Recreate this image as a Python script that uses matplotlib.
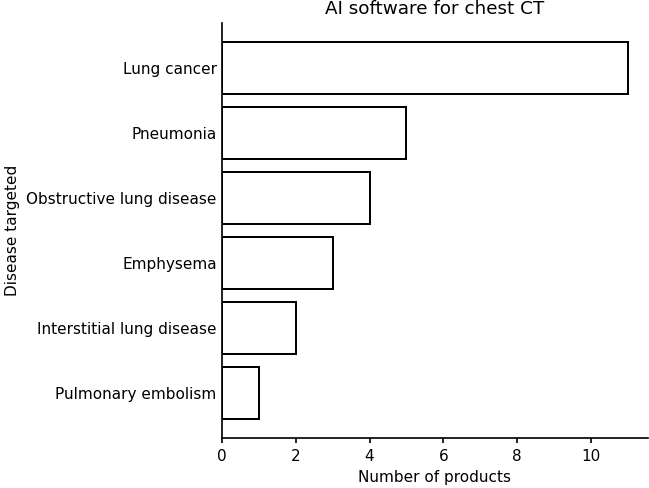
import matplotlib
matplotlib.use("Agg")
import matplotlib.pyplot as plt

diseases = ["Pulmonary embolism", "Interstitial lung disease", "Emphysema",
            "Obstructive lung disease", "Pneumonia", "Lung cancer"]
counts = [1, 2, 3, 4, 5, 11]

DPI = 110
fig = plt.figure(figsize=(649/DPI, 488/DPI), dpi=DPI)
ax = fig.add_axes([222/649, 1-438/488, (648-222)/649, (438-23)/488])
ax.barh(diseases, counts, height=0.8, color="white", edgecolor="black", linewidth=1.3)
ax.spines["top"].set_visible(False)
ax.spines["right"].set_visible(False)
ax.spines["left"].set_linewidth(1.1)
ax.spines["bottom"].set_linewidth(1.1)
ax.tick_params(axis="y", length=0, labelsize=10)
ax.tick_params(axis="x", labelsize=10, width=1.1)
ax.set_xlabel("Number of products", fontsize=10)
ax.set_ylabel("Disease targeted", fontsize=10)
ax.set_title("AI software for chest CT", fontsize=12)
fig.savefig("out.png", dpi=DPI)
